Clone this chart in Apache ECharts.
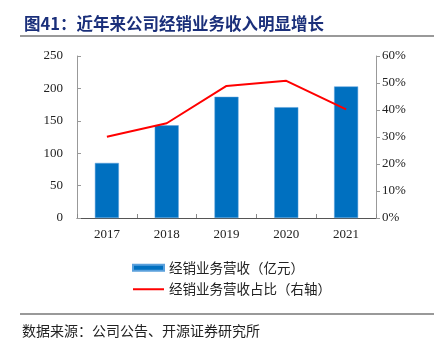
<!DOCTYPE html>
<html><head><meta charset="utf-8">
<script src="https://cdn.jsdelivr.net/npm/echarts@6/dist/echarts.min.js"></script>
<style>html,body{margin:0;padding:0;background:#fff}#c{width:434px;height:345px}</style>
</head><body><div id="c"></div>
<script>
const categories = ['2017','2018','2019','2020','2021'];
const revenue = [85, 143, 187, 171, 203];
const share = [30.1, 35.1, 48.9, 50.8, 40.2];
const leftTicks = [0, 50, 100, 150, 200, 250];
const rightTicks = [0, 10, 20, 30, 40, 50, 60];
const titleText = '图41：近年来公司经销业务收入明显增长';
const sourceText = '数据来源：公司公告、开源证券研究所';
const barName = '经销业务营收（亿元）';
const lineName = '经销业务营收占比（右轴）';

const chart = echarts.init(document.getElementById('c'), null, {renderer: 'canvas'});
const serif = '"Liberation Serif", "Times New Roman", serif';
const cjk = '"Noto Sans CJK SC", sans-serif';
chart.setOption({
  animation: false,
  title: {
    text: titleText, left: 19, top: 10,
    textStyle: {fontFamily: cjk, fontSize: 16.5, fontWeight: 'bold', color: '#1a2f7a'}
  },
  graphic: [
    {type: 'line', shape: {x1: 20, y1: 36, x2: 434, y2: 36}, style: {stroke: '#777', lineWidth: 1.5}},
    {type: 'line', shape: {x1: 20, y1: 314, x2: 434, y2: 314}, style: {stroke: '#777', lineWidth: 1.5}},
    {type: 'text', left: 22, top: 324, style: {text: sourceText, font: '14px "Noto Sans CJK SC", sans-serif', fill: '#222'}}
  ],
  legend: {
    orient: 'vertical', left: 127, top: 256, itemGap: 8, itemWidth: 31, itemHeight: 6,
    textStyle: {fontFamily: cjk, fontSize: 13.5, color: '#222'},
    data: [
      {name: barName, icon: 'rect'},
      {name: lineName, itemStyle: {opacity: 0}, lineStyle: {color: '#ff0000', width: 2}}
    ]
  },
  grid: {left: 77, right: 58, top: 56, bottom: 127, containLabel: false},
  xAxis: {
    type: 'category', data: categories,
    axisLine: {lineStyle: {color: '#555', width: 1}},
    axisTick: {show: true, inside: true, length: 4, lineStyle: {color: '#888'}},
    axisLabel: {fontFamily: serif, fontSize: 13, color: '#222', margin: 10}
  },
  yAxis: [
    {
      type: 'value', min: 0, max: 250, interval: 50,
      axisLine: {show: true, lineStyle: {color: '#999'}},
      axisTick: {show: true, inside: true, length: 4, lineStyle: {color: '#999'}},
      splitLine: {show: false},
      axisLabel: {fontFamily: serif, fontSize: 13, color: '#222', margin: 14,
        formatter: v => leftTicks.includes(v) ? String(v) : ''}
    },
    {
      type: 'value', min: 0, max: 60, interval: 10, position: 'right',
      axisLine: {show: true, lineStyle: {color: '#999'}},
      axisTick: {show: true, length: 4, lineStyle: {color: '#999'}},
      splitLine: {show: false},
      axisLabel: {fontFamily: serif, fontSize: 13, color: '#222', margin: 6,
        formatter: v => rightTicks.includes(v) ? v + '%' : ''}
    }
  ],
  series: [
    {name: barName, type: 'bar', data: revenue, barWidth: 24,
      itemStyle: {color: '#0070c0', borderColor: '#5aa0dc', borderWidth: 0.5}},
    {name: lineName, type: 'line', yAxisIndex: 1, data: share, symbol: 'none',
      lineStyle: {color: '#ff0000', width: 2}, itemStyle: {color: '#ff0000'}}
  ]
});
</script></body></html>
